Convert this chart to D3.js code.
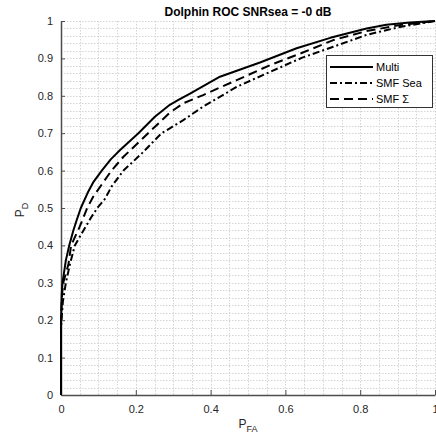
<!DOCTYPE html>
<html><head><meta charset="utf-8">
<script src="https://cdn.jsdelivr.net/npm/d3@7"></script>
<style>body{margin:0;background:#fff}svg{display:block;font-family:"Liberation Sans",Arial,sans-serif}</style>
</head><body><svg id="c" width="436" height="439"></svg>
<script>
const title = "Dolphin ROC SNRsea = -0 dB";
const seriesNames = ["Multi", "SMF Sea", "SMF Σ"];
const multi = [[0,0],[0,0.2],[0.002,0.27],[0.004,0.3],[0.013,0.36],[0.022,0.40],[0.033,0.44],[0.042,0.468],[0.053,0.50],[0.071,0.54],[0.087,0.57],[0.109,0.60],[0.133,0.63],[0.158,0.655],[0.207,0.70],[0.251,0.744],[0.291,0.776],[0.314,0.789],[0.345,0.806],[0.425,0.851],[0.532,0.889],[0.63,0.927],[0.72,0.955],[0.817,0.98],[0.87,0.99],[0.933,0.996],[1,1]];
const smfSea = [[0,0],[0,0.18],[0.005,0.25],[0.013,0.30],[0.024,0.35],[0.037,0.40],[0.06,0.44],[0.082,0.477],[0.097,0.50],[0.118,0.525],[0.135,0.557],[0.167,0.60],[0.216,0.646],[0.269,0.70],[0.291,0.713],[0.327,0.735],[0.38,0.771],[0.47,0.824],[0.559,0.864],[0.645,0.902],[0.728,0.931],[0.817,0.963],[0.906,0.984],[1,1]];
const smfSum = [[0,0],[0,0.2],[0.003,0.27],[0.006,0.30],[0.02,0.35],[0.027,0.40],[0.05,0.45],[0.07,0.50],[0.086,0.53],[0.135,0.60],[0.167,0.637],[0.233,0.70],[0.291,0.755],[0.327,0.78],[0.38,0.802],[0.47,0.842],[0.559,0.882],[0.645,0.915],[0.728,0.949],[0.817,0.973],[0.906,0.989],[1,1]];
const xTicks = [0,0.2,0.4,0.6,0.8,1];
const yTicks = [0,0.1,0.2,0.3,0.4,0.5,0.6,0.7,0.8,0.9,1];
const xMinor = d3.range(0,1.0001,0.05);
const yMinor = d3.range(0,1.0001,0.02);

const svg = d3.select("#c");
const L=61, R=435, T=21, B=395;
const x = d3.scaleLinear().domain([0,1]).range([L,R]);
const y = d3.scaleLinear().domain([0,1]).range([B,T]);

const grid = svg.append("g").attr("stroke","#d4d4d4").attr("stroke-width",1).attr("stroke-dasharray","1.5,1.5");
xMinor.forEach(v=>grid.append("line").attr("x1",Math.round(x(v))+0.5).attr("x2",Math.round(x(v))+0.5).attr("y1",T).attr("y2",B));
yMinor.forEach(v=>grid.append("line").attr("y1",Math.round(y(v))+0.5).attr("y2",Math.round(y(v))+0.5).attr("x1",L).attr("x2",R));

const fmt = d=> d===0?"0":(d===1?"1":d3.format(".1f")(d));
const xa = svg.append("g").attr("transform",`translate(0,${B})`)
  .call(d3.axisBottom(x).tickValues(xTicks).tickFormat(fmt).tickSizeInner(-5).tickSizeOuter(0).tickPadding(10));
const ya = svg.append("g").attr("transform",`translate(${L},0)`)
  .call(d3.axisLeft(y).tickValues(yTicks).tickFormat(fmt).tickSizeInner(-4).tickSizeOuter(0).tickPadding(8));
[xa,ya].forEach(a=>{a.select(".domain").attr("stroke","#4d4d4d").attr("stroke-width",1.5);
  a.selectAll(".tick line").attr("stroke","#4d4d4d");
  a.selectAll("text").attr("fill","#262626").attr("font-size",11).attr("font-family","Liberation Sans,Arial,sans-serif");});

const line = d3.line().x(d=>x(d[0])).y(d=>y(d[1])).curve(d3.curveMonotoneX);
const styles = [{data:multi,dash:null},{data:smfSea,dash:"7,3,2,3"},{data:smfSum,dash:"9,5"}];
styles.forEach(s=>svg.append("path").datum(s.data).attr("d",d3.line().x(d=>x(d[0])).y(d=>y(d[1]))).attr("fill","none")
  .attr("stroke","#000").attr("stroke-width",2).attr("stroke-linejoin","round").attr("stroke-dasharray",s.dash));

svg.append("text").attr("x",248).attr("y",16).attr("text-anchor","middle")
  .attr("font-size",12).attr("font-weight","bold").attr("fill","#000").text(title);

const xl = svg.append("text").attr("x",248).attr("y",428).attr("text-anchor","middle").attr("font-size",12).attr("fill","#262626");
xl.append("tspan").text("P");
xl.append("tspan").attr("font-size",9).attr("dy",4).text("FA");
const yl = svg.append("text").attr("transform","translate(24,210) rotate(-90)").attr("text-anchor","middle").attr("font-size",12).attr("fill","#262626");
yl.append("tspan").text("P");
yl.append("tspan").attr("font-size",9).attr("dy",4).text("D");

const lg = svg.append("g");
lg.append("rect").attr("x",326.5).attr("y",55.5).attr("width",106).attr("height",52).attr("fill","#fff").attr("stroke","#333").attr("stroke-width",1);
styles.forEach((s,i)=>{
  const yy = 67 + i*16;
  lg.append("line").attr("x1",330).attr("x2",373).attr("y1",yy).attr("y2",yy).attr("stroke","#000").attr("stroke-width",2).attr("stroke-dasharray",s.dash);
  lg.append("text").attr("x",376).attr("y",yy+4).attr("font-size",11).attr("fill","#000").text(seriesNames[i]);
});
</script></body></html>
